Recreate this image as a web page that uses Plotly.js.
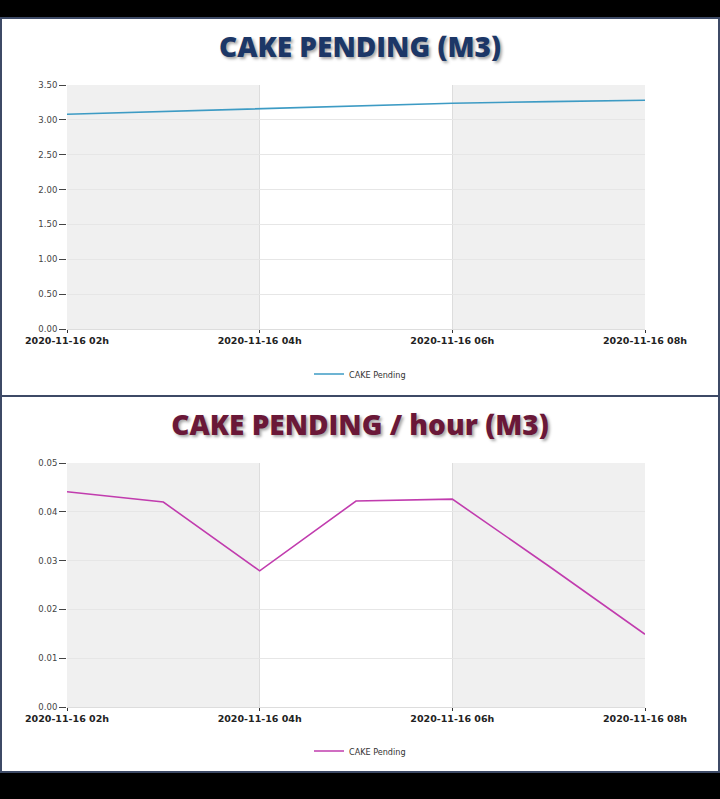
<!DOCTYPE html>
<html>
<head>
<meta charset="utf-8">
<script src="https://cdn.plot.ly/plotly-3.0.1.min.js"></script>
<style>
  body { margin: 0; background: #000; width: 720px; height: 799px; overflow: hidden; position: relative; }
  .panel { position: absolute; left: 0; width: 720px; box-sizing: border-box; background: #fff; border: 2px solid #3d4a66; }
  #p1 { top: 17px; height: 380px; }
  #p2 { top: 397px; height: 376px; border-top: none; }
</style>
</head>
<body>
<div class="panel" id="p1"><div id="pending"></div></div>
<div class="panel" id="p2"><div id="pending_hour"></div></div>
<script>
  // hourly readings
  const hours = ['2020-11-16 02:00', '2020-11-16 03:00', '2020-11-16 04:00', '2020-11-16 05:00',
                 '2020-11-16 06:00', '2020-11-16 07:00', '2020-11-16 08:00'];
  const pending_m3 = [3.081, 3.119, 3.157, 3.200, 3.238, 3.262, 3.281];
  const pending_per_hour = [0.0441, 0.0420, 0.0279, 0.0422, 0.0426, 0.0289, 0.0149];

  const tick_hours = ['2020-11-16 02:00', '2020-11-16 04:00', '2020-11-16 06:00', '2020-11-16 08:00'];
  const tick_labels = ['2020-11-16 02h', '2020-11-16 04h', '2020-11-16 06h', '2020-11-16 08h'];

  // grey bands on every other 2h slot
  function makeBands() {
    var shapes = [];
    for (var i = 0; i < tick_hours.length - 1; i += 2) {
      shapes.push({
        type: 'rect', layer: 'below', xref: 'x', yref: 'paper',
        x0: tick_hours[i], x1: tick_hours[i + 1], y0: 0, y1: 1,
        fillcolor: '#f0f0f0', line: {width: 0}
      });
    }
    return shapes;
  }

  function makeLayout(title, titleColor, yrange, ydtick, h, bottom, legendY) {
    return {
      width: 716, height: h,
      margin: {l: 65, r: 73, t: 66, b: bottom},
      paper_bgcolor: '#fff', plot_bgcolor: '#fff',
      title: {
        text: title, x: 0.5, xanchor: 'center', yref: 'container', y: 1 - 28 / h, yanchor: 'middle',
        font: {family: 'Open Sans', size: 28, weight: 800, color: titleColor, shadow: '2px 2px 3px rgba(0,0,0,0.35)'}
      },
      xaxis: {
        type: 'date', range: [tick_hours[0], tick_hours[tick_hours.length - 1]],
        tickvals: tick_hours, ticktext: tick_labels,
        ticks: 'outside', ticklen: 3, tickcolor: '#333',
        showgrid: true, gridcolor: '#dddddd', zeroline: false,
        showline: true, linecolor: '#dddddd', linewidth: 1,
        tickfont: {family: 'DejaVu Sans', size: 9.5, weight: 'bold', color: '#222'}
      },
      yaxis: {
        range: yrange, dtick: ydtick, tickformat: '.2f',
        ticks: 'outside', ticklen: 7, tickcolor: '#444',
        showgrid: true, gridcolor: '#e6e6e6', zeroline: false, showline: false,
        tickfont: {family: 'DejaVu Sans', size: 8.5, color: '#444'}
      },
      showlegend: true,
      legend: {
        orientation: 'h', xref: 'container', x: 0.5, xanchor: 'center',
        yref: 'container', y: legendY / h, yanchor: 'middle',
        font: {family: 'DejaVu Sans Condensed', size: 9, color: '#333'}
      },
      shapes: makeBands()
    };
  }

  Plotly.newPlot('pending', [{
    x: hours, y: pending_m3, name: 'CAKE Pending', type: 'scatter', mode: 'lines',
    line: {color: '#3d9bc4', width: 1.6}
  }], makeLayout('CAKE PENDING (M3)', '#1c3767', [0, 3.5], 0.5, 376, 66, 21), {displayModeBar: false, staticPlot: true});

  Plotly.newPlot('pending_hour', [{
    x: hours, y: pending_per_hour, name: 'CAKE Pending', type: 'scatter', mode: 'lines',
    line: {color: '#c13cae', width: 1.6}
  }], makeLayout('CAKE PENDING / hour (M3)', '#6a1838', [0, 0.05], 0.01, 374, 64, 20), {displayModeBar: false, staticPlot: true});
</script>
</body>
</html>
